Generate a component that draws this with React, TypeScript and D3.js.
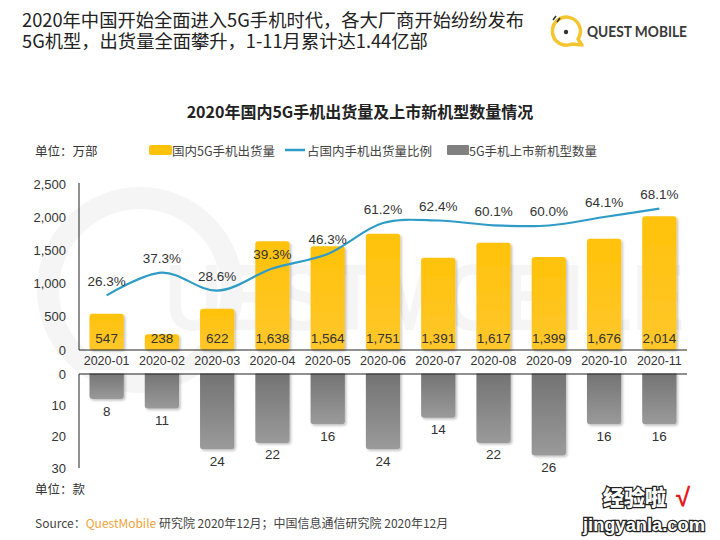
import React from "react";
import * as d3 from "d3";

const months = ["2020-01","2020-02","2020-03","2020-04","2020-05","2020-06","2020-07","2020-08","2020-09","2020-10","2020-11"];
const shipments = [547, 238, 622, 1638, 1564, 1751, 1391, 1617, 1399, 1676, 2014];
const shareRatio = [26.3, 37.3, 28.6, 39.3, 46.3, 61.2, 62.4, 60.1, 60.0, 64.1, 68.1];
const newModels = [8, 11, 24, 22, 16, 24, 14, 22, 26, 16, 16];
const topTicks = [0, 500, 1000, 1500, 2000, 2500];
const bottomTicks = [0, 10, 20, 30];

const CJK = "'Noto Sans CJK SC', 'Noto Sans', sans-serif";
const NUM = "'Liberation Sans', Arial, sans-serif";

export default function App() {
  const x = d3.scaleBand<string>().domain(months).range([79, 687]).paddingInner(0.38).paddingOuter(0.19);
  const yTop = d3.scaleLinear().domain([0, 2500]).range([350, 184]);
  const yPct = d3.scaleLinear().domain([0, 80]).range([350, 184]);
  const yBot = d3.scaleLinear().domain([0, 30]).range([374, 468]);
  const bw = x.bandwidth();
  const cx = (m: string) => (x(m) as number) + bw / 2;
  const fmt = d3.format(",");

  const line = d3
    .line<number>()
    .x((_, i) => cx(months[i]))
    .y((d) => yPct(d))
    .curve(d3.curveCatmullRom.alpha(0.5));

  return (
    <svg width={720} height={540} style={{ position: "absolute", left: 0, top: 0, background: "#fff" }}>
      <defs>
        <linearGradient id="gy" x1="0" y1="0" x2="0" y2="1">
          <stop offset="0%" stopColor="#FFC20A" />
          <stop offset="100%" stopColor="#FFC72C" />
        </linearGradient>
        <linearGradient id="gg" x1="0" y1="0" x2="0" y2="1">
          <stop offset="0%" stopColor="#727272" />
          <stop offset="100%" stopColor="#9a9a9a" />
        </linearGradient>
        <filter id="sh" x="-20%" y="-20%" width="140%" height="140%">
          <feDropShadow dx="1.5" dy="1.5" stdDeviation="1.2" floodColor="#000" floodOpacity="0.25" />
        </filter>
      </defs>

      {/* background watermark */}
      <g opacity={0.035}>
        <circle cx={140} cy={290} r={92} fill="none" stroke="#000" strokeWidth={22} />
        <text x={165} y={330} fontFamily={NUM} fontWeight={700} fontSize={95} textLength={520} lengthAdjust="spacingAndGlyphs" fill="#000">
          UESTMOBILE
        </text>
      </g>

      {/* header */}
      <text x={22} y={27} fontFamily={CJK} fontSize={18.3} fill="#222">
        2020年中国开始全面进入5G手机时代，各大厂商开始纷纷发布
      </text>
      <text x={22} y={48} fontFamily={CJK} fontSize={18.3} fill="#222">
        5G机型，出货量全面攀升，1-11月累计达1.44亿部
      </text>

      {/* logo */}
      <g>
        <path d="M 578 39 A 14 14 0 1 0 572 44 L 582 45 Z" fill="none" stroke="#F5C530" strokeWidth={3.5} strokeLinejoin="round" />
        <circle cx={566} cy={32} r={2.2} fill="#333" />
        <line x1={553} y1={20} x2={556} y2={16} stroke="#333" strokeWidth={1.6} />
        <line x1={557} y1={22} x2={560} y2={18} stroke="#333" strokeWidth={1.6} />
        <text x={587} y={37} fontFamily="Lato, 'Open Sans', sans-serif" fontWeight={700} fontSize={15} fill="#3a3a3a" textLength={100} lengthAdjust="spacingAndGlyphs">
          QUEST MOBILE
        </text>
      </g>

      {/* chart title */}
      <text x={360} y={111} textAnchor="middle" dominantBaseline="central" fontFamily={CJK} fontSize={16} fontWeight={700} fill="#222">
        2020年国内5G手机出货量及上市新机型数量情况
      </text>

      {/* legend */}
      <text x={35} y={150} dominantBaseline="central" fontFamily={CJK} fontSize={12.5} fill="#333">单位：万部</text>
      <rect x={149} y={145} width={23} height={10} rx={2} fill="#FFC20A" />
      <text x={172} y={150} dominantBaseline="central" fontFamily={CJK} fontSize={12.5} fill="#444">国内5G手机出货量</text>
      <line x1={285} x2={305} y1={150} y2={150} stroke="#2E9CC6" strokeWidth={2.5} />
      <text x={307} y={150} dominantBaseline="central" fontFamily={CJK} fontSize={12.5} fill="#444">占国内手机出货量比例</text>
      <rect x={447} y={145} width={22} height={10} rx={1} fill="#808080" />
      <text x={469} y={150} dominantBaseline="central" fontFamily={CJK} fontSize={12.5} fill="#444">5G手机上市新机型数量</text>

      {/* top axis */}
      {topTicks.map((t) => (
        <text key={t} x={66} y={yTop(t)} textAnchor="end" dominantBaseline="central" fontFamily={NUM} fontSize={13} fill="#333">
          {fmt(t)}
        </text>
      ))}

      {/* top bars */}
      {months.map((m, i) => (
        <rect key={m} x={x(m)} y={yTop(shipments[i])} width={bw} height={350 - yTop(shipments[i])} rx={3} fill="url(#gy)" filter="url(#sh)" />
      ))}
      {months.map((m, i) => (
        <text key={m} x={cx(m)} y={338} textAnchor="middle" dominantBaseline="central" fontFamily={NUM} fontSize={13.5} fill="#333">
          {fmt(shipments[i])}
        </text>
      ))}

      <line x1={79} x2={79} y1={183} y2={350} stroke="#222" strokeWidth={1} />
      <line x1={79} x2={687} y1={350} y2={350} stroke="#222" strokeWidth={1} />

      {/* line */}
      <path d={line(shareRatio) || ""} fill="none" stroke="#2E9CC6" strokeWidth={2.2} />
      {months.map((m, i) => (
        <text key={m} x={cx(m)} y={yPct(shareRatio[i]) - 14} textAnchor="middle" dominantBaseline="central" fontFamily={NUM} fontSize={13.5} fill="#333">
          {shareRatio[i].toFixed(1)}%
        </text>
      ))}

      {/* category labels */}
      {months.map((m) => (
        <text key={m} x={cx(m)} y={361} textAnchor="middle" dominantBaseline="central" fontFamily={NUM} fontSize={12.5} fill="#333">
          {m}
        </text>
      ))}

      {/* bottom axis */}
      {bottomTicks.map((t) => (
        <text key={t} x={66} y={yBot(t)} textAnchor="end" dominantBaseline="central" fontFamily={NUM} fontSize={13} fill="#333">
          {t}
        </text>
      ))}
      {months.map((m, i) => (
        <rect key={m} x={x(m)} y={yBot(0) - 3} width={bw} height={yBot(newModels[i]) - yBot(0) + 3} rx={3} fill="url(#gg)" filter="url(#sh)" />
      ))}
      {months.map((m, i) => (
        <text key={m} x={cx(m)} y={yBot(newModels[i]) + 12} textAnchor="middle" dominantBaseline="central" fontFamily={NUM} fontSize={13.5} fill="#333">
          {newModels[i]}
        </text>
      ))}
      <rect x={79} y={370} width={609} height={3.5} fill="#fff" />
      <line x1={79} x2={79} y1={374} y2={468} stroke="#222" strokeWidth={1} />
      <line x1={79} x2={687} y1={374} y2={374} stroke="#222" strokeWidth={1} />
      <text x={35} y={488} dominantBaseline="central" fontFamily={CJK} fontSize={12.5} fill="#333">单位：款</text>

      {/* source */}
      <text x={35} y={522} dominantBaseline="central" fontFamily={CJK} fontSize={12} fill="#444">
        Source：<tspan fill="#F2A33A">QuestMobile</tspan> 研究院 2020年12月；中国信息通信研究院 2020年12月
      </text>

      {/* site watermark */}
      <text x={603} y={505} fontFamily={CJK} fontWeight={900} fontSize={21} fill="#fff" stroke="#222" strokeWidth={2.5} style={{ paintOrder: "stroke" }}>
        经验啦
      </text>
      <text x={676} y={506} fontFamily={NUM} fontWeight={700} fontSize={26} fill="#e81818">√</text>
      <text x={583} y={531} fontFamily={NUM} fontWeight={900} fontSize={18} fill="#fff" stroke="#222" strokeWidth={2.5} style={{ paintOrder: "stroke" }} textLength={122} lengthAdjust="spacingAndGlyphs">
        jingyanla.com
      </text>
    </svg>
  );
}
